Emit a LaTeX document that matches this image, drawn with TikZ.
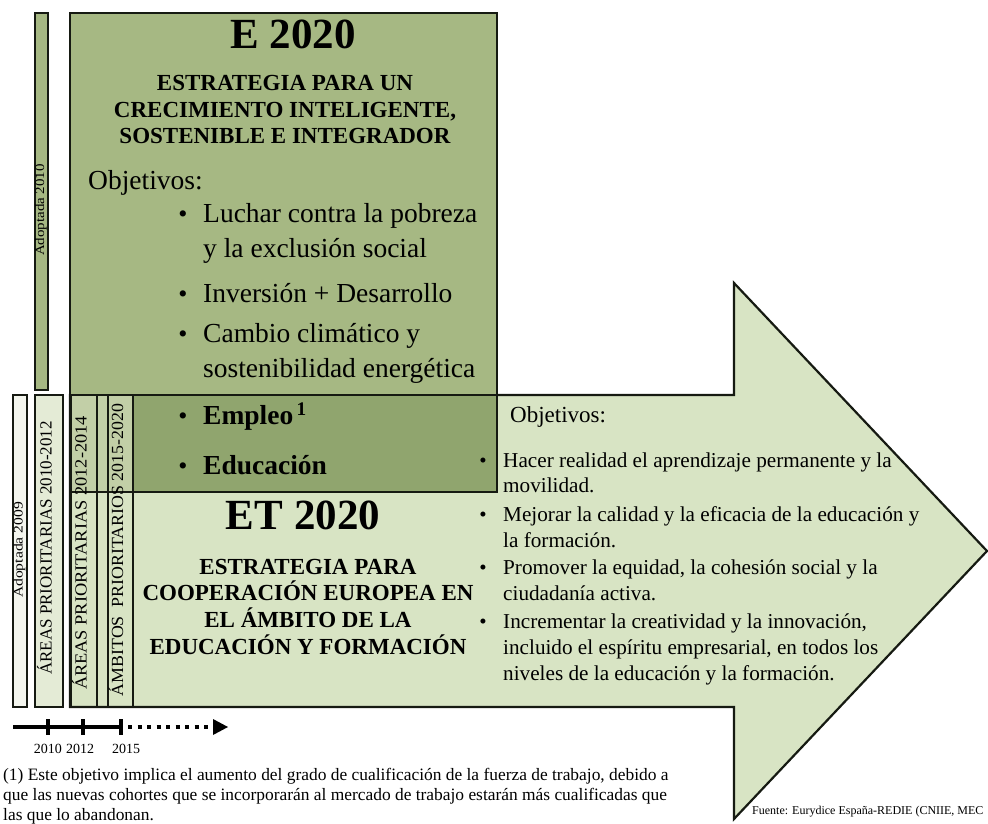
\documentclass[tikz,border=0pt]{standalone}
\usepackage{fontspec}
\setmainfont{Liberation Serif}
\definecolor{boxgreen}{RGB}{166,184,131}
\definecolor{overgreen}{RGB}{144,165,110}
\definecolor{arrowgreen}{RGB}{216,228,196}
\definecolor{stripmid}{RGB}{194,207,167}
\definecolor{stripwhite}{RGB}{244,246,238}
\definecolor{striplight}{RGB}{228,235,214}
\definecolor{edge}{RGB}{22,26,18}
\newcommand\fsz[1]{\fontsize{#1}{#1}\selectfont}
\tikzset{
  outline/.style={draw=edge, line width=2.2pt, line join=miter},
  txt/.style={inner sep=0pt, text height=0.7em, text depth=0.2em},
  ltxt/.style={txt, anchor=west},
  striptext/.style={txt, rotate=90, font=\fsz{17}},
  smallstrip/.style={txt, rotate=90, font=\fsz{13}},
  title/.style={txt, font=\bfseries\fsz{43}},
  sub/.style={txt, font=\bfseries\fsz{23}},
  eitem/.style={ltxt, font=\fsz{27.5}},
  ebul/.style={txt, font=\fsz{26}},
  ritem/.style={ltxt, font=\fsz{21.2}},
  rbul/.style={txt, font=\fsz{21}},
  foot/.style={ltxt, font=\fsz{17.4}},
  year/.style={txt, font=\fsz{14}}
}
\begin{document}
\begin{tikzpicture}[x=1pt,y=-1pt]
\useasboundingbox (0,0) rectangle (988,823);
% ET 2020 arrow
\draw[outline, fill=arrowgreen] (70,395) -- (734,395) -- (734,283) -- (987,551) -- (734,819) -- (734,707) -- (70,707) -- cycle;
% E 2020 box
\fill[boxgreen] (70,13) rectangle (497,395);
\fill[overgreen] (70,395) rectangle (497,492);
\fill[stripmid] (70,395) rectangle (133,492);
\draw[outline] (70,13) rectangle (497,492);
\draw[outline] (70,395) -- (497,395);
% strips
\draw[outline, fill=boxgreen] (35,13) rectangle (48,390);
\draw[outline, fill=stripwhite] (13,395) rectangle (27,707);
\draw[outline, fill=striplight] (35,395) rectangle (63,707);
\draw[outline] (71,395) rectangle (97,707);
\draw[outline] (108,395) rectangle (133,707);
\node[smallstrip] (s0) at (41.5,210) {\scalebox{1.15}[1]{Adoptada 2010}};
\node[smallstrip] (s1) at (20,550) {\scalebox{1.2}[1]{Adoptada 2009}};
\node[striptext] (s2) at (49,548) {ÁREAS PRIORITARIAS 2010-2012};
\node[striptext] (s3) at (84,553) {\scalebox{1.08}[1]{ÁREAS PRIORITARIAS 2012-2014}};
\node[striptext] (s4) at (120.5,550) {\scalebox{1.05}[1]{ÁMBITOS\ \ PRIORITARIOS 2015-2020}};
% E 2020 texts
\node[title] (e1) at (293,46) {E 2020};
\node[sub] (e2) at (285,88) {ESTRATEGIA PARA UN};
\node[sub] (e3) at (285,115) {CRECIMIENTO INTELIGENTE,};
\node[sub] (e4) at (285,141) {SOSTENIBLE E INTEGRADOR};
\node[eitem] (eo) at (88,187) {Objetivos:};
\node[eitem] (l1) at (203,220) {Luchar contra la pobreza};
\node[eitem] (l2) at (203,255) {y la exclusión social};
\node[eitem] (l3) at (203,300) {Inversión + Desarrollo};
\node[eitem] (l4) at (203,340) {Cambio climático y};
\node[eitem] (l5) at (203,375) {sostenibilidad energética};
\node[eitem, font=\bfseries\fsz{27.5}] (l6) at (203,422) {Empleo\textsuperscript{\,1}};
\node[eitem, font=\bfseries\fsz{27.5}] (l7) at (203,472) {Educación};
\foreach \yy/\nm in {220/b1,300/b2,340/b3,422/b4,472/b5}
  \node[ebul] (\nm) at (183,\yy) {•};
% ET 2020 texts
\node[title] (t1) at (303,527) {ET 2020};
\node[sub] (t2) at (308,572) {ESTRATEGIA PARA};
\node[sub] (t3) at (308,598) {COOPERACIÓN EUROPEA EN};
\node[sub] (t4) at (308,625) {EL ÁMBITO DE LA};
\node[sub] (t5) at (308,652) {EDUCACIÓN Y FORMACIÓN};
% right objectives
\node[ltxt, font=\fsz{23}] (ro) at (510,420) {Objetivos:};
\node[ritem] (r1) at (503,465) {Hacer realidad el aprendizaje permanente y la};
\node[ritem] (r2) at (503,490) {movilidad.};
\node[ritem] (r3) at (503,519) {Mejorar la calidad y la eficacia de la educación y};
\node[ritem] (r4) at (503,545) {la formación.};
\node[ritem] (r5) at (503,572) {Promover la equidad, la cohesión social y la};
\node[ritem] (r6) at (503,598) {ciudadanía activa.};
\node[ritem] (r7) at (503,626) {Incrementar la creatividad y la innovación,};
\node[ritem] (r8) at (503,652) {incluido el espíritu empresarial, en todos los};
\node[ritem] (r9) at (503,678) {niveles de la educación y la formación.};
\foreach \yy/\nm in {465/c1,519/c2,572/c3,626/c4}
  \node[rbul] (\nm) at (483,\yy) {•};
% timeline
\coordinate (tl0) at (13,727);
\coordinate (tl1) at (122,727);
\coordinate (tl2) at (213,727);
\draw[line width=3.5pt] (tl0) -- (tl1);
\foreach \xx in {48,83,121}
  \draw[line width=3.5pt] (\xx,719) -- (\xx,735);
\draw[line width=4pt, dash pattern=on 4pt off 5.5pt] (128,727) -- (tl2);
\fill (213,719) -- (228,727) -- (213,735) -- cycle;
\node[year] (y1) at (48,751) {2010};
\node[year] (y2) at (80,751) {2012};
\node[year] (y3) at (126,751) {2015};
% footnote
\node[foot] (f1) at (3,778) {(1) Este objetivo implica el aumento del grado de cualificación de la fuerza de trabajo, debido a};
\node[foot] (f2) at (3,798) {que las nuevas cohortes que se incorporarán al mercado de trabajo estarán más cualificadas que};
\node[foot] (f3) at (3,818) {las que lo abandonan.};
\node[ltxt, font=\fsz{12}] (src) at (752,812) {Fuente: Eurydice España-REDIE (CNIIE, MEC};
\end{tikzpicture}
\end{document}
